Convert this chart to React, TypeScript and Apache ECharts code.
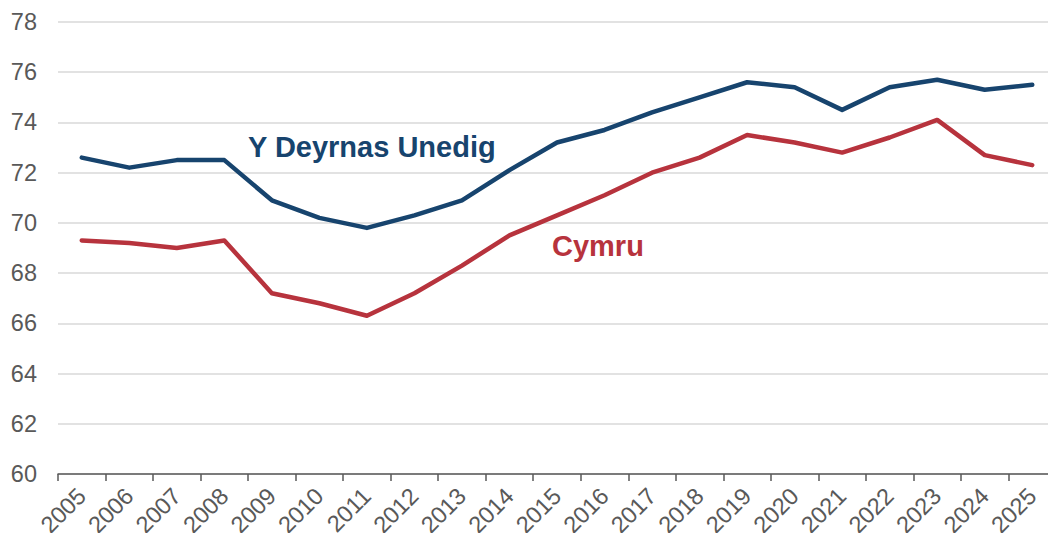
import React, { useEffect, useRef } from "react";
import * as echarts from "echarts";

const years = ["2005","2006","2007","2008","2009","2010","2011","2012","2013","2014","2015","2016","2017","2018","2019","2020","2021","2022","2023","2024","2025"];
const ukValues = [72.6,72.2,72.5,72.5,70.9,70.2,69.8,70.3,70.9,72.1,73.2,73.7,74.4,75.0,75.6,75.4,74.5,75.4,75.7,75.3,75.5];
const walesValues = [69.3,69.2,69.0,69.3,67.2,66.8,66.3,67.2,68.3,69.5,70.3,71.1,72.0,72.6,73.5,73.2,72.8,73.4,74.1,72.7,72.3];
const ukName = "Y Deyrnas Unedig";
const walesName = "Cymru";

const BLUE = "#17446E";
const RED = "#B7333D";

export default function App() {
  const ref = useRef<HTMLDivElement>(null);
  useEffect(() => {
    if (!ref.current) return;
    const chart = echarts.init(ref.current, null, { renderer: "svg" });
    chart.setOption({
      animation: false,
      grid: { left: 58, right: 0, top: 22, bottom: 67, containLabel: false },
      xAxis: {
        type: "category",
        data: years,
        boundaryGap: true,
        axisLine: { show: true, lineStyle: { color: "#595959", width: 1.5 } },
        axisTick: { show: true, length: 7, lineStyle: { color: "#595959", width: 1.5 } },
        axisLabel: {
          rotate: 45,
          interval: 0,
          margin: 18,
          color: "#595959",
          fontSize: 23.5,
          fontFamily: "Liberation Sans, Arial, sans-serif",
        },
        splitLine: { show: false },
      },
      yAxis: {
        type: "value",
        min: 60,
        max: 78,
        interval: 2,
        axisLine: { show: false },
        axisTick: { show: false },
        axisLabel: {
          color: "#595959",
          fontSize: 23.5,
          margin: 21,
          fontFamily: "Liberation Sans, Arial, sans-serif",
        },
        splitLine: { show: true, lineStyle: { color: "#D9D9D9", width: 1.5 } },
      },
      series: [
        {
          name: ukName,
          type: "line",
          data: ukValues,
          symbol: "none",
          lineStyle: { color: BLUE, width: 4.5, cap: "round", join: "round" },
        },
        {
          name: walesName,
          type: "line",
          data: walesValues,
          symbol: "none",
          lineStyle: { color: RED, width: 4.5, cap: "round", join: "round" },
        },
      ],
      graphic: [
        {
          type: "text",
          left: 248,
          top: 132,
          style: {
            text: ukName,
            fill: BLUE,
            font: "bold 29px 'Liberation Sans', Arial, sans-serif",
          },
        },
        {
          type: "text",
          left: 552,
          top: 231,
          style: {
            text: walesName,
            fill: RED,
            font: "bold 29px 'Liberation Sans', Arial, sans-serif",
          },
        },
      ],
    });
    return () => chart.dispose();
  }, []);
  return <div ref={ref} style={{ width: 1056, height: 541, margin: -8 }} />;
}
